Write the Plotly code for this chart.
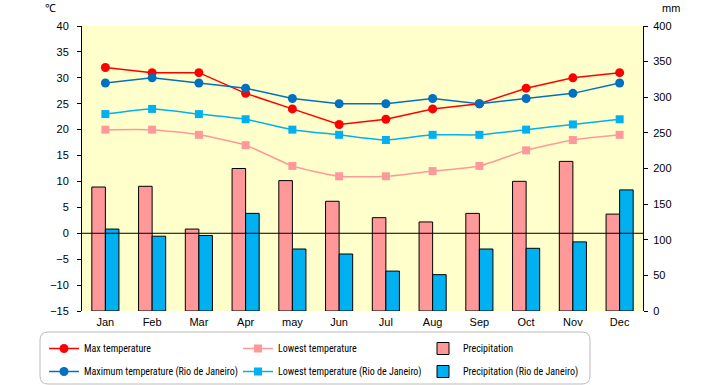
import plotly.graph_objects as go

months = ["Jan", "Feb", "Mar", "Apr", "may", "Jun", "Jul", "Aug", "Sep", "Oct", "Nov", "Dec"]
max_temp = [32, 31, 31, 27, 24, 21, 22, 24, 25, 28, 30, 31]
low_temp = [20, 20, 19, 17, 13, 11, 11, 12, 13, 16, 18, 19]
precip = [174, 175, 115, 200, 183, 154, 131, 125, 137, 182, 210, 136]
rio_max = [29, 30, 29, 28, 26, 25, 25, 26, 25, 26, 27, 29]
rio_low = [23, 24, 23, 22, 20, 19, 18, 19, 19, 20, 21, 22]
rio_precip = [115, 105, 106, 137, 87, 80, 56, 51, 87, 88, 97, 170]

TICKFONT = dict(family="Liberation Sans, Arial, sans-serif", size=11, color="black")
LEGFONT = dict(family="Roboto Condensed, Liberation Sans, sans-serif", size=10, color="black")

W, H = 720, 385
L, R, T, B = 82, 77, 26, 74
pw, ph = W - L - R, H - T - B


def px_x(x):
    return (x - L) / pw


def px_y(y):
    return (H - B - y) / ph


fig = go.Figure()
fig.add_trace(go.Scatter(x=months, y=max_temp, name="Max temperature", yaxis="y2",
                         legend="legend", legendgroup="a",
                         mode="lines+markers", line=dict(color="#FF0000", width=1.5),
                         marker=dict(symbol="circle", size=9, color="#FF0000")))
fig.add_trace(go.Scatter(x=months, y=rio_max, name="Maximum temperature (Rio de Janeiro)", yaxis="y2",
                         legend="legend", legendgroup="b",
                         mode="lines+markers", line=dict(color="#0070C0", width=1.5),
                         marker=dict(symbol="circle", size=9, color="#0070C0")))
fig.add_trace(go.Scatter(x=months, y=low_temp, name="Lowest temperature", yaxis="y2",
                         legend="legend2", legendgroup="c",
                         mode="lines+markers", line=dict(color="#FF9999", width=1.5, shape="spline", smoothing=0.6),
                         marker=dict(symbol="square", size=8, color="#FF9999")))
fig.add_trace(go.Scatter(x=months, y=rio_low, name="Lowest temperature (Rio de Janeiro)", yaxis="y2",
                         legend="legend2", legendgroup="d",
                         mode="lines+markers", line=dict(color="#00B0F0", width=1.5, shape="spline", smoothing=0.6),
                         marker=dict(symbol="square", size=8, color="#00B0F0")))
fig.add_trace(go.Bar(x=months, y=precip, name="Precipitation", yaxis="y",
                     legend="legend3", legendgroup="e",
                     marker=dict(color="#FF9999", line=dict(color="black", width=1))))
fig.add_trace(go.Bar(x=months, y=rio_precip, name="Precipitation (Rio de Janeiro)", yaxis="y",
                     legend="legend3", legendgroup="f",
                     marker=dict(color="#00B0F0", line=dict(color="black", width=1))))

# rounded legend box
x0, x1, y0, y1, r = px_x(40), px_x(590), px_y(332), px_y(384), 8
rx, ry = r / pw, r / ph
path = (f"M {x0+rx},{y0} L {x1-rx},{y0} Q {x1},{y0} {x1},{y0-ry} "
        f"L {x1},{y1+ry} Q {x1},{y1} {x1-rx},{y1} L {x0+rx},{y1} Q {x0},{y1} {x0},{y1+ry} "
        f"L {x0},{y0-ry} Q {x0},{y0} {x0+rx},{y0} Z")


def leg(xline):
    return dict(orientation="v", x=px_x(xline - 5), y=px_y(334), xanchor="left", yanchor="top",
                bgcolor="rgba(0,0,0,0)", borderwidth=0, itemwidth=30, font=LEGFONT,
                tracegroupgap=4, traceorder="grouped")


fig.update_layout(
    width=W, height=H,
    margin=dict(l=L, r=R, t=T, b=B, autoexpand=False),
    paper_bgcolor="white",
    plot_bgcolor="#FFFFCC",
    font=TICKFONT,
    barmode="group", bargap=0.42, bargroupgap=0,
    showlegend=True,
    legend=leg(49),
    legend2=leg(243),
    legend3=leg(428),
    xaxis=dict(type="category", range=[-0.5, len(months) - 0.5], showline=False, ticks="",
               showgrid=False, tickfont=TICKFONT, ticklabelstandoff=3),
    yaxis=dict(range=[0, 400], side="right", dtick=50, showline=True, linecolor="black",
               linewidth=1, ticks="outside", ticklen=4, tickcolor="black", showgrid=False,
               zeroline=False, anchor="x", tickfont=TICKFONT, ticklabelstandoff=3),
    yaxis2=dict(range=[-15, 40], side="left", overlaying="y", dtick=5, showline=True,
                linecolor="black", linewidth=1, ticks="outside", ticklen=4, tickcolor="black",
                showgrid=False, zeroline=False, anchor="x", tickfont=TICKFONT, ticklabelstandoff=6),
    shapes=[
        dict(type="line", xref="paper", yref="y2", x0=0, x1=1, y0=0, y1=0,
             line=dict(color="black", width=1), layer="above"),
        dict(type="path", xref="paper", yref="paper", path=path,
             line=dict(color="#BBBBBB", width=1), fillcolor="rgba(0,0,0,0)", layer="below"),
    ],
    annotations=[
        dict(text="℃", xref="paper", yref="paper", x=px_x(50), y=px_y(8), showarrow=False,
             xanchor="center", yanchor="middle", font=TICKFONT),
        dict(text="mm", xref="paper", yref="paper", x=px_x(671), y=px_y(8), showarrow=False,
             xanchor="center", yanchor="middle", font=TICKFONT),
    ],
)

fig.write_html("out.html", config={"displayModeBar": False},
               post_script="document.body.style.margin='0';")
